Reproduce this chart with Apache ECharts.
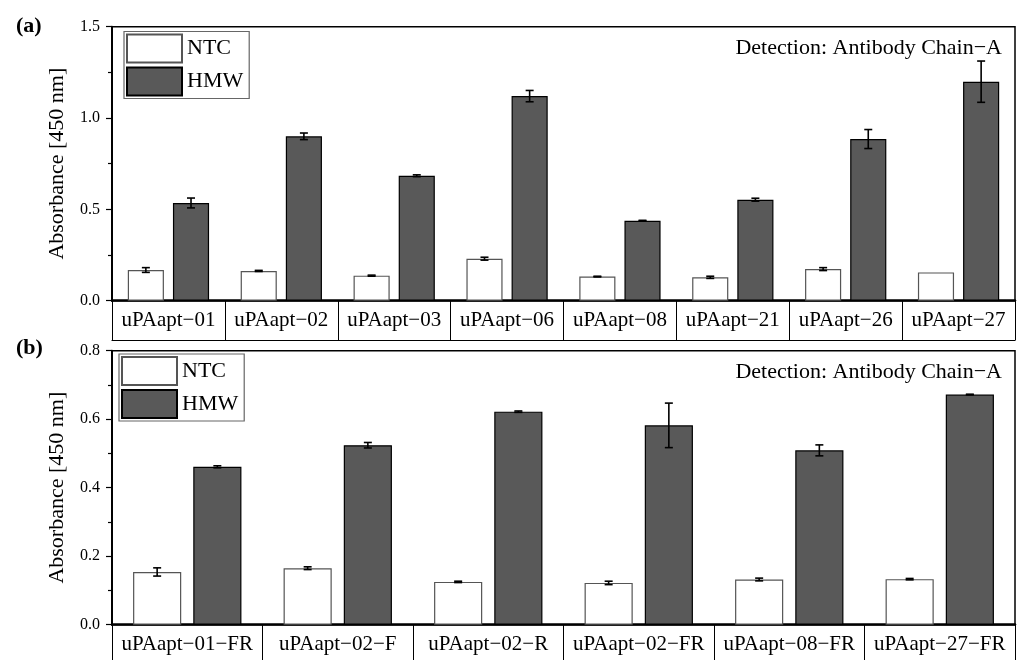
<!DOCTYPE html>
<html><head><meta charset="utf-8">
<script src="https://cdn.jsdelivr.net/npm/echarts@6/dist/echarts.min.js"></script>
<style>html,body{margin:0;padding:0;background:#fff}#c{width:1022px;height:660px}</style>
</head><body><div id="c"></div>
<script>
const catsA = ['uPAapt−01','uPAapt−02','uPAapt−03','uPAapt−06','uPAapt−08','uPAapt−21','uPAapt−26','uPAapt−27'];
const ntcA = [0.168,0.163,0.137,0.230,0.132,0.128,0.173,0.155];
const ntcErrA = [0.013,0.003,0.003,0.008,0.002,0.006,0.008,0.0];
const hmwA = [0.535,0.900,0.684,1.120,0.438,0.553,0.885,1.199];
const hmwErrA = [0.027,0.018,0.005,0.031,0.002,0.008,0.052,0.113];

const catsB = ['uPAapt−01−FR','uPAapt−02−F','uPAapt−02−R','uPAapt−02−FR','uPAapt−08−FR','uPAapt−27−FR'];
const ntcB = [0.154,0.165,0.125,0.122,0.132,0.133];
const ntcErrB = [0.012,0.004,0.002,0.005,0.004,0.002];
const hmwB = [0.461,0.524,0.622,0.582,0.509,0.672];
const hmwErrB = [0.003,0.008,0.002,0.065,0.016,0.001];

const yTicksA = {min:0, max:1.5, interval:0.5};
const yTicksB = {min:0, max:0.8, interval:0.2};

const FONT = 'Liberation Serif';
const chart = echarts.init(document.getElementById('c'), null, {renderer:'canvas'});

function errData(vals, errs){ return vals.map((v,i)=>[i, v, errs[i]]); }
function errSeries(vals, errs, side, xi, yi){
  return {
    type:'custom', xAxisIndex:xi, yAxisIndex:yi, z:10, silent:true,
    data: errData(vals, errs),
    encode:{x:0, y:1},
    renderItem:function(params, api){
      const i = api.value(0), v = api.value(1), e = api.value(2);
      if (!(e > 0)) return null;
      const band = api.size([1,0])[0];
      const cx = api.coord([i, v])[0] + side*0.2*band;
      const yt = api.coord([i, v+e])[1];
      const yb = api.coord([i, v-e])[1];
      const cap = 4;
      const st = {stroke:'#000', lineWidth:1.6};
      return {type:'group', children:[
        {type:'line', shape:{x1:cx,y1:yt,x2:cx,y2:yb}, style:st},
        {type:'line', shape:{x1:cx-cap,y1:yt,x2:cx+cap,y2:yt}, style:st},
        {type:'line', shape:{x1:cx-cap,y1:yb,x2:cx+cap,y2:yb}, style:st}
      ]};
    }
  };
}
function barSeries(name, vals, xi, yi, fill, border){
  return {
    name:name, type:'bar', xAxisIndex:xi, yAxisIndex:yi, data:vals,
    barWidth:'32%', barGap:'25%',
    itemStyle:{color:fill, borderColor:border, borderWidth:1.2},
    emphasis:{disabled:true}
  };
}
function yAxis(grid, t){
  return {
    type:'value', gridIndex:grid, min:t.min, max:t.max, interval:t.interval,
    name:'Absorbance [450 nm]', nameLocation:'middle', nameGap:44,
    nameTextStyle:{fontFamily:FONT, fontSize:22, color:'#000'},
    axisLine:{show:true, lineStyle:{color:'#000', width:2}},
    axisTick:{show:true, inside:false, length:6, lineStyle:{color:'#000', width:1.2}},
    minorTick:{show:true, splitNumber:2, length:4, lineStyle:{color:'#000', width:1.2}},
    splitLine:{show:false},
    axisLabel:{fontFamily:FONT, fontSize:16, color:'#000', margin:12, formatter:v=>v.toFixed(1)}
  };
}
function xAxis(grid, cats){
  return {
    type:'category', gridIndex:grid, data:cats, position:'bottom',
    axisLine:{show:true, lineStyle:{color:'#000', width:2.5}},
    axisTick:{show:true, inside:false, length:39.5, alignWithLabel:false, lineStyle:{color:'#000', width:1}},
    axisLabel:{fontFamily:FONT, fontSize:21, color:'#000', margin:9, interval:0},
    splitLine:{show:false}
  };
}
const legendCommon = {
  orient:'vertical', selectedMode:false, icon:'rect',
  itemWidth:55, itemHeight:28, itemGap:3, padding:[2,6,2,2],
  borderColor:'#666', borderWidth:1.2, backgroundColor:'#fff',
  textStyle:{fontFamily:FONT, fontSize:22, color:'#000'},
  data:['NTC','HMW']
};
const titleRich = {n:{fontFamily:FONT, fontSize:22, color:'#000'}, b:{fontFamily:FONT, fontSize:22, fontWeight:'bold', color:'#000'}};

chart.setOption({
  animation:false,
  backgroundColor:'#fff',
  title:[
    {text:'{n|(}{b|a}{n|)}', left:11, top:10, textStyle:{rich:titleRich}},
    {text:'{n|(}{b|b}{n|)}', left:11, top:332, textStyle:{rich:titleRich}},
    {text:'Detection: Antibody Chain−A', right:15, top:32, textStyle:{fontFamily:FONT, fontSize:22, fontWeight:'normal', color:'#000'}},
    {text:'Detection: Antibody Chain−A', right:15, top:356, textStyle:{fontFamily:FONT, fontSize:22, fontWeight:'normal', color:'#000'}}
  ],
  legend:[
    Object.assign({left:124, top:31.5}, legendCommon),
    Object.assign({left:119, top:354}, legendCommon)
  ],
  grid:[
    {left:112, right:7, top:26.7, height:274, show:true, borderColor:'#000', borderWidth:1.5},
    {left:112, right:7, top:350.7, height:274, show:true, borderColor:'#000', borderWidth:1.5}
  ],
  xAxis:[
    xAxis(0, catsA),
    xAxis(1, catsB),
    {type:'category', gridIndex:0, data:catsA, position:'bottom', offset:39.5,
     axisLine:{show:true, lineStyle:{color:'#000', width:1.2}}, axisTick:{show:false}, axisLabel:{show:false}}
  ],
  yAxis:[ yAxis(0, yTicksA), yAxis(1, yTicksB) ],
  series:[
    barSeries('NTC', ntcA, 0, 0, '#ffffff', '#555'),
    barSeries('HMW', hmwA, 0, 0, '#595959', '#000'),
    barSeries('NTC', ntcB, 1, 1, '#ffffff', '#555'),
    barSeries('HMW', hmwB, 1, 1, '#595959', '#000'),
    errSeries(ntcA, ntcErrA, -1, 0, 0),
    errSeries(hmwA, hmwErrA, 1, 0, 0),
    errSeries(ntcB, ntcErrB, -1, 1, 1),
    errSeries(hmwB, hmwErrB, 1, 1, 1)
  ]
});
</script></body></html>
